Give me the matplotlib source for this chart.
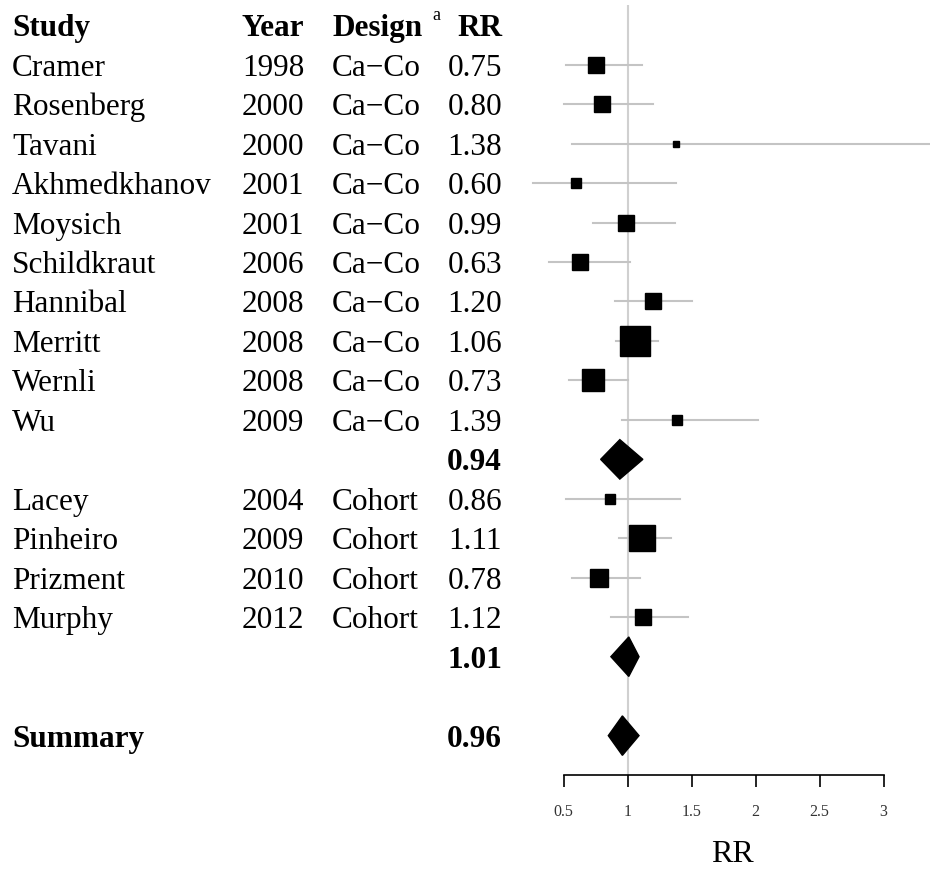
import numpy as np
import matplotlib
matplotlib.use("Agg")
import matplotlib.pyplot as plt

plt.rcParams['font.family'] = ['Liberation Serif', 'DejaVu Serif']

# study rows
studies = ["Cramer", "Rosenberg", "Tavani", "Akhmedkhanov", "Moysich", "Schildkraut",
           "Hannibal", "Merritt", "Wernli", "Wu",
           "Lacey", "Pinheiro", "Prizment", "Murphy"]
years = [1998, 2000, 2000, 2001, 2001, 2006, 2008, 2008, 2008, 2009,
         2004, 2009, 2010, 2012]
designs = ["Ca\u2212Co"] * 10 + ["Cohort"] * 4
rr = [0.75, 0.80, 1.38, 0.60, 0.99, 0.63, 1.20, 1.06, 0.73, 1.39,
      0.86, 1.11, 0.78, 1.12]
ci_lo = [0.52, 0.50, 0.57, 0.26, 0.73, 0.39, 0.90, 0.91, 0.54, 0.96,
         0.52, 0.93, 0.57, 0.87]
ci_hi = [1.11, 1.20, 3.45, 1.38, 1.37, 1.02, 1.50, 1.24, 1.00, 2.02,
         1.41, 1.34, 1.10, 1.47]
weights = [6.5, 5.8, 0.8, 2.3, 5.8, 5.8, 6.5, 21.7, 10.0, 2.3,
           2.7, 15.3, 8.1, 6.5]
study_rows = [0, 1, 2, 3, 4, 5, 6, 7, 8, 9, 11, 12, 13, 14]

# pooled estimates
pooled_labels = ["", "", "Summary"]
pooled_rr = [0.94, 1.01, 0.96]
pooled_lo = [0.79, 0.87, 0.85]
pooled_hi = [1.12, 1.09, 1.09]
pooled_rows = [10, 15, 17]

ticks = [0.5, 1, 1.5, 2, 2.5, 3]

fig = plt.figure(figsize=(9.3, 8.71), dpi=100)
ax = fig.add_axes([0, 0, 1, 1])
ax.set_xlim(-3.902, 3.363)
ax.set_ylim(20.43, -1.639)

fs = 22.5
va = 'center_baseline'
trans = ax.get_yaxis_transform()  # x in axes fraction, y in data
col_study, col_year, col_design, col_rr = 12 / 930, 242 / 930, 332 / 930, 502 / 930

# header
ax.text(col_study, -1, "Study", transform=trans, fontsize=fs, fontweight='bold', va=va)
ax.text(col_year, -1, "Year", transform=trans, fontsize=fs, fontweight='bold', va=va)
ax.text(col_design, -1, "Design", transform=trans, fontsize=fs, fontweight='bold', va=va)
ax.text(432 / 930, -1.3, "a", transform=trans, fontsize=13, va=va)
ax.text(col_rr, -1, "RR", transform=trans, fontsize=fs, fontweight='bold', va=va, ha='right')

# reference line
ax.vlines(1, -1.51, 18.0, color='#d0d0d0', lw=1.5, zorder=1)

for i, r in enumerate(study_rows):
    ax.text(col_study, r, studies[i], transform=trans, fontsize=fs, va=va)
    ax.text(col_year, r, str(years[i]), transform=trans, fontsize=fs, va=va)
    ax.text(col_design, r, designs[i], transform=trans, fontsize=fs, va=va)
    ax.text(col_rr, r, "%.2f" % rr[i], transform=trans, fontsize=fs, va=va, ha='right')
    ax.plot([ci_lo[i], ci_hi[i]], [r, r], color='#c4c4c4', lw=1.5, zorder=2)
    side = 6.65 * np.sqrt(weights[i]) * 0.72
    ax.plot(rr[i], r, marker='s', color='black', markersize=side, zorder=3)

for j, r in enumerate(pooled_rows):
    if pooled_labels[j]:
        ax.text(col_study, r, pooled_labels[j], transform=trans, fontsize=fs,
                fontweight='bold', va=va)
    ax.text(col_rr, r, "%.2f" % pooled_rr[j], transform=trans, fontsize=fs,
            fontweight='bold', va=va, ha='right')
    ax.fill([pooled_lo[j], pooled_rr[j], pooled_hi[j], pooled_rr[j]],
            [r, r - 0.5, r, r + 0.5], color='black', zorder=3)

# x axis
for s in ['top', 'right', 'left']:
    ax.spines[s].set_visible(False)
ax.spines['bottom'].set_position(('data', 18.0))
ax.spines['bottom'].set_bounds(0.5, 3)
ax.spines['bottom'].set_linewidth(1.2)
ax.set_xticks(ticks)
ax.set_xticklabels(["0.5", "1", "1.5", "2", "2.5", "3"])
ax.tick_params(axis='x', direction='out', length=8.5, width=1.2, pad=12,
               labelsize=11.5, labelcolor='#333333')
ax.set_yticks([])
ax.text(1.82, 20.02, "RR", fontsize=23, ha='center', va='center')

fig.savefig("out.png", dpi=100)
